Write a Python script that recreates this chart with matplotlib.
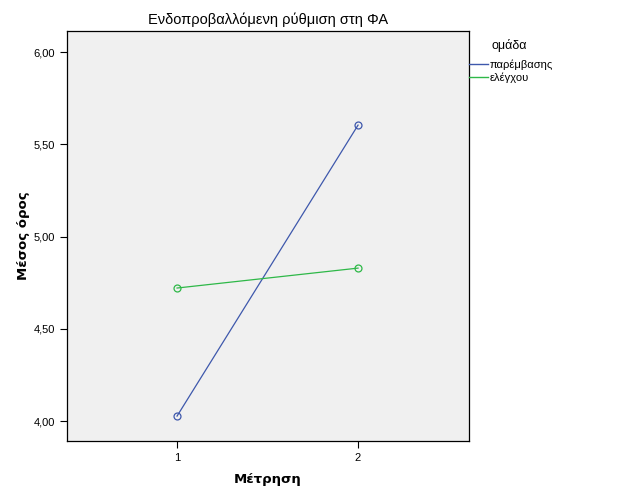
import matplotlib
matplotlib.use("Agg")
import matplotlib.pyplot as plt
from matplotlib.lines import Line2D

metriseis = [1, 2]
omades = ["παρέμβασης", "ελέγχου"]
parembasi = [4.027, 5.604]
elegxos = [4.721, 4.829]
y_ticks = [4.0, 4.5, 5.0, 5.5, 6.0]
y_labels = ["4,00", "4,50", "5,00", "5,50", "6,00"]

xrwmata = ["#3E58AC", "#2EB848"]

fig = plt.figure(figsize=(6.26, 5.01), dpi=100)
ax = fig.add_axes([67 / 626, 1 - 441 / 501, (469 - 67) / 626, (441 - 31) / 501])
ax.set_facecolor("#F0F0F0")

for vals, c in zip([parembasi, elegxos], xrwmata):
    ax.plot(metriseis, vals, "-", color=c, linewidth=0.9)
    ax.plot(metriseis, vals, "o", mfc="none", mec=c, ms=5, mew=0.9)

ax.set_xlim(0.392, 2.613)
ax.set_ylim(3.892, 6.114)
ax.set_xticks(metriseis)
ax.set_xticklabels([str(m) for m in metriseis], fontsize=8, family="Liberation Sans")
ax.set_yticks(y_ticks)
ax.set_yticklabels(y_labels, fontsize=8, family="Liberation Sans")
ax.tick_params(direction="out", length=5, width=0.8, colors="black")
for s in ax.spines.values():
    s.set_linewidth(0.9)

ax.set_xlabel("Μέτρηση", fontsize=9.5, fontweight="bold", labelpad=7)
ax.set_ylabel("Μέσος όρος", fontsize=9.5, fontweight="bold", labelpad=3)
ax.set_title("Ενδοπροβαλλόμενη ρύθμιση στη ΦΑ", fontsize=10.5, family="Liberation Sans", pad=5)

# legend title on its own, items below it
fig.text(492 / 626, 1 - 45 / 501, "ομάδα", fontsize=9, family="Liberation Sans",
         ha="left", va="center")
handles = [Line2D([0], [0], color=c, linewidth=1) for c in xrwmata]
leg = fig.legend(handles, omades, loc="upper left",
                 bbox_to_anchor=(469 / 626, 1 - 59 / 501), frameon=False,
                 prop={"family": "Liberation Sans", "size": 8},
                 handlelength=1.7, handletextpad=0.2, labelspacing=0.25,
                 borderaxespad=0, borderpad=0)

fig.savefig("out.png", dpi=100)
